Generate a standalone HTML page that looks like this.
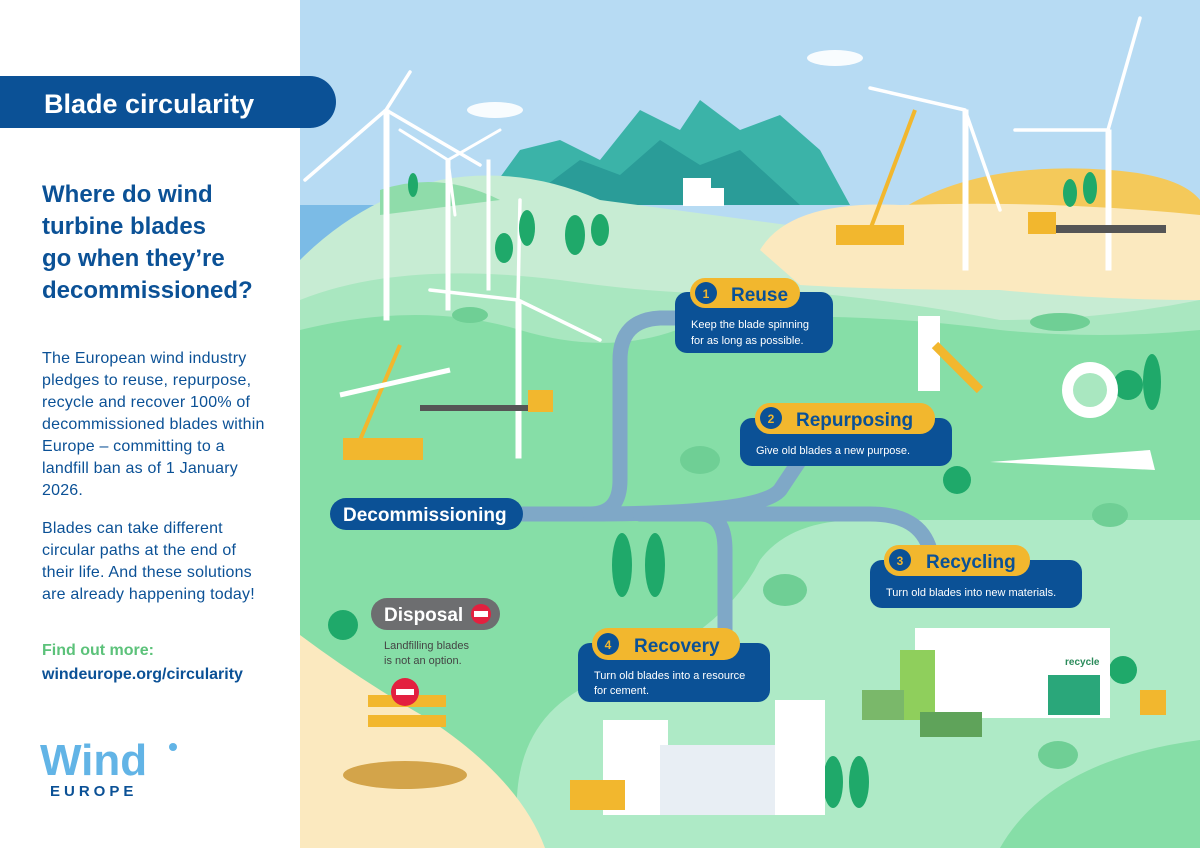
<!DOCTYPE html>
<html><head><meta charset="utf-8"><style>
body{margin:0;width:1200px;height:848px;overflow:hidden;background:#fff;font-family:"Liberation Sans",sans-serif}
svg{display:block}
.t{font-family:"Liberation Sans",sans-serif}
</style></head><body>
<svg width="1200" height="848" viewBox="0 0 1200 848" xmlns="http://www.w3.org/2000/svg">
<rect x="300" y="0" width="900" height="848" fill="#b7dbf3"/>
<g fill="#fff" opacity=".9">
<ellipse cx="495" cy="110" rx="28" ry="8"/><ellipse cx="835" cy="58" rx="28" ry="8"/>
</g>
<rect x="300" y="205" width="80" height="55" fill="#7bbbe6"/>
<path d="M480 205 L520 150 L560 140 L600 160 L640 110 L680 130 L700 100 L740 130 L780 115 L820 150 L850 205 Z" fill="#3bb3a8"/>
<path d="M520 205 L580 160 L620 175 L660 140 L700 165 L740 150 L800 205 Z" fill="#2a9c98"/>
<path d="M300 260 Q360 200 440 180 Q520 165 600 200 L900 240 L1200 230 L1200 848 L300 848 Z" fill="#c7ecd3"/>
<path d="M380 190 Q440 170 500 200 L380 215 Z" fill="#8fdcaa"/>
<path d="M900 210 Q980 160 1110 170 Q1180 175 1200 200 L1200 240 L900 240 Z" fill="#f4c95a"/>
<path d="M760 250 Q790 200 900 205 Q1050 200 1200 215 L1200 300 Q1100 300 1000 290 Q880 290 800 285 Z" fill="#fbe9bf"/>
<path d="M300 300 Q400 260 560 280 Q700 300 780 290 Q900 300 1000 320 Q1100 320 1200 300 L1200 848 L300 848 Z" fill="#a9e7c0"/>
<path d="M300 330 Q420 300 520 330 Q620 360 700 320 Q850 310 1000 330 Q1100 340 1200 330 L1200 848 L300 848 Z" fill="#86dea7"/>
<path d="M520 848 Q500 720 600 680 Q720 640 760 560 Q790 520 860 520 L1200 520 L1200 848 Z" fill="#aeeac6"/>
<path d="M1000 848 Q1050 760 1200 740 L1200 848 Z" fill="#86dea7"/>
<path d="M300 635 Q360 680 430 720 Q520 780 545 848 L300 848 Z" fill="#fbe9bf"/>
<g fill="none" stroke="#7fa8c7" stroke-width="15" stroke-linecap="round">
<path d="M520 514 L590 514 Q620 514 620 480 L620 360 Q620 320 660 318 L690 318"/>
<path d="M590 514 Q760 514 780 490 L800 460"/>
<path d="M640 514 L870 514 Q920 514 930 550"/>
<path d="M700 514 Q725 514 725 550 L725 640"/>
</g>
<g stroke="#fff" fill="#fff" stroke-linecap="round">
<rect x="384" y="110" width="5" height="210"/>
<path d="M386 110 L410 72 M386 110 L305 180 M386 110 L480 165" stroke-width="3.5"/>
<rect x="446" y="160" width="4" height="150"/>
<path d="M448 160 L500 130 M448 160 L400 130 M448 160 L455 215" stroke-width="3"/>
<rect x="487" y="160" width="3" height="130"/>
<rect x="516" y="300" width="5" height="158"/>
<path d="M518 300 L520 200 M518 300 L600 340 M518 300 L430 290" stroke-width="3.5"/>
<rect x="963" y="110" width="5" height="160"/>
<path d="M965 110 L870 88 M965 110 L1000 210" stroke-width="3.5"/>
<rect x="1106" y="130" width="5" height="140"/>
<path d="M1108 130 L1140 18 M1108 130 L1015 130" stroke-width="3.5"/>
</g>
<g fill="#1fa96a">
<ellipse cx="527" cy="228" rx="8" ry="18"/><ellipse cx="575" cy="235" rx="10" ry="20"/><ellipse cx="600" cy="230" rx="9" ry="16"/><ellipse cx="504" cy="248" rx="9" ry="15"/>
<ellipse cx="622" cy="565" rx="10" ry="32"/><ellipse cx="655" cy="565" rx="10" ry="32"/>
<circle cx="343" cy="625" r="15"/><circle cx="957" cy="480" r="14"/><circle cx="1128" cy="385" r="15"/><ellipse cx="1152" cy="382" rx="9" ry="28"/>
<circle cx="1123" cy="670" r="14"/><ellipse cx="833" cy="782" rx="10" ry="26"/><ellipse cx="859" cy="782" rx="10" ry="26"/>
<ellipse cx="1070" cy="193" rx="7" ry="14"/><ellipse cx="1090" cy="188" rx="7" ry="16"/><ellipse cx="413" cy="185" rx="5" ry="12"/>
</g>
<g fill="#6fcf95"><ellipse cx="700" cy="460" rx="20" ry="14"/><ellipse cx="785" cy="590" rx="22" ry="16"/><ellipse cx="1058" cy="755" rx="20" ry="14"/><ellipse cx="1110" cy="515" rx="18" ry="12"/><ellipse cx="470" cy="315" rx="18" ry="8"/><ellipse cx="1060" cy="322" rx="30" ry="9"/></g>
<rect x="683" y="178" width="28" height="28" fill="#fff"/><rect x="710" y="188" width="14" height="18" fill="#fff"/>
<rect x="836" y="225" width="68" height="20" fill="#f2b72e"/>
<path d="M870 230 L915 110" stroke="#f2b72e" stroke-width="4"/>
<rect x="1028" y="212" width="28" height="22" fill="#f2b72e"/><rect x="1056" y="225" width="110" height="8" fill="#555"/>
<path d="M360 440 L400 345" stroke="#f2b72e" stroke-width="4"/>
<rect x="343" y="438" width="80" height="22" fill="#f2b72e"/>
<path d="M340 395 L450 370" stroke="#fff" stroke-width="5"/>
<rect x="420" y="405" width="110" height="6" fill="#555"/><rect x="528" y="390" width="25" height="22" fill="#f2b72e"/>
<rect x="918" y="316" width="22" height="75" fill="#fff"/><path d="M935 345 L980 390" stroke="#f2b72e" stroke-width="9"/>
<circle cx="1090" cy="390" r="28" fill="#fff"/><circle cx="1090" cy="390" r="17" fill="#a9e7c0"/>
<path d="M990 462 L1150 450 L1155 470 Z" fill="#fff"/>
<rect x="915" y="628" width="100" height="90" fill="#fff"/><rect x="900" y="650" width="35" height="70" fill="#8fcf5c"/>
<rect x="1010" y="628" width="100" height="90" fill="#fff"/><rect x="1048" y="675" width="52" height="40" fill="#2aa77a"/>
<text x="1065" y="665" class="t" font-size="10" font-weight="bold" fill="#2a8a5a">recycle</text>
<rect x="862" y="690" width="42" height="30" fill="#7ab86a"/><rect x="920" y="712" width="62" height="25" fill="#5fa35a"/>
<rect x="1140" y="690" width="26" height="25" fill="#f2b72e"/>
<rect x="603" y="720" width="65" height="95" fill="#fff"/><rect x="660" y="745" width="140" height="70" fill="#e8eef4"/>
<rect x="775" y="700" width="50" height="115" fill="#fff"/>
<rect x="570" y="780" width="55" height="30" fill="#f2b72e"/>
<g><rect x="368" y="695" width="78" height="12" fill="#f2b72e"/><rect x="368" y="715" width="78" height="12" fill="#f2b72e"/>
<circle cx="405" cy="692" r="14" fill="#e3203f"/><rect x="396" y="689" width="18" height="6" fill="#fff"/>
<ellipse cx="405" cy="775" rx="62" ry="14" fill="#d3a44a"/></g>

<rect x="0" y="0" width="300" height="848" fill="#fff"/>
<path d="M0 76 H310 A26 26 0 0 1 310 128 H0 Z" fill="#0b5196"/>
<text x="44" y="113" class="t" font-size="27" font-weight="bold" fill="#fff">Blade circularity</text>
<g class="t" font-size="24" font-weight="bold" fill="#0b5196">
<text x="42" y="202">Where do wind</text><text x="42" y="234">turbine blades</text><text x="42" y="266">go when they’re</text><text x="42" y="298">decommissioned?</text>
</g>
<g class="t" font-size="16" fill="#0b5196" letter-spacing="0.2">
<text x="42" y="363">The European wind industry</text><text x="42" y="385">pledges to reuse, repurpose,</text><text x="42" y="407">recycle and recover 100% of</text><text x="42" y="429">decommissioned blades within</text><text x="42" y="451">Europe – committing to a</text><text x="42" y="473">landfill ban as of 1 January</text><text x="42" y="495">2026.</text>
<text x="42" y="533">Blades can take different</text><text x="42" y="555">circular paths at the end of</text><text x="42" y="577">their life. And these solutions</text><text x="42" y="599">are already happening today!</text>
</g>
<text x="42" y="655" class="t" font-size="16" font-weight="bold" fill="#5cc27a">Find out more:</text>
<text x="42" y="679" class="t" font-size="16" font-weight="bold" fill="#0b5196">windeurope.org/circularity</text>
<text x="40" y="775" class="t" font-size="44" font-weight="bold" fill="#62b4e6">Wind</text>
<circle cx="173" cy="747" r="4" fill="#62b4e6"/>
<text x="50" y="796" class="t" font-size="15" font-weight="bold" fill="#0b5196" letter-spacing="4">EUROPE</text>

<g class="t">
<rect x="675" y="292" width="158" height="61" rx="12" fill="#0b5196"/>
<rect x="690" y="278" width="110" height="30" rx="15" fill="#f2b72e"/>
<circle cx="706" cy="293" r="11" fill="#0b5196"/><text x="706" y="298" font-size="12" font-weight="bold" fill="#f2b72e" text-anchor="middle">1</text>
<text x="731" y="301" font-size="19" font-weight="bold" fill="#0b5196">Reuse</text>
<text x="691" y="328" font-size="11" fill="#fff">Keep the blade spinning</text><text x="691" y="344" font-size="11" fill="#fff">for as long as possible.</text>

<rect x="740" y="418" width="212" height="48" rx="12" fill="#0b5196"/>
<rect x="755" y="403" width="180" height="31" rx="15" fill="#f2b72e"/>
<circle cx="771" cy="418" r="11" fill="#0b5196"/><text x="771" y="423" font-size="12" font-weight="bold" fill="#f2b72e" text-anchor="middle">2</text>
<text x="796" y="426" font-size="19" font-weight="bold" fill="#0b5196">Repurposing</text>
<text x="756" y="454" font-size="11" fill="#fff">Give old blades a new purpose.</text>

<rect x="330" y="498" width="193" height="32" rx="16" fill="#0b5196"/>
<text x="343" y="521" font-size="19" font-weight="bold" fill="#fff">Decommissioning</text>

<rect x="870" y="560" width="212" height="48" rx="12" fill="#0b5196"/>
<rect x="884" y="545" width="146" height="31" rx="15" fill="#f2b72e"/>
<circle cx="900" cy="560" r="11" fill="#0b5196"/><text x="900" y="565" font-size="12" font-weight="bold" fill="#f2b72e" text-anchor="middle">3</text>
<text x="926" y="568" font-size="19" font-weight="bold" fill="#0b5196">Recycling</text>
<text x="886" y="596" font-size="11" fill="#fff">Turn old blades into new materials.</text>

<rect x="578" y="643" width="192" height="59" rx="12" fill="#0b5196"/>
<rect x="592" y="628" width="148" height="32" rx="16" fill="#f2b72e"/>
<circle cx="608" cy="644" r="11" fill="#0b5196"/><text x="608" y="649" font-size="12" font-weight="bold" fill="#f2b72e" text-anchor="middle">4</text>
<text x="634" y="652" font-size="19" font-weight="bold" fill="#0b5196">Recovery</text>
<text x="594" y="679" font-size="11" fill="#fff">Turn old blades into a resource</text><text x="594" y="694" font-size="11" fill="#fff">for cement.</text>

<rect x="371" y="598" width="129" height="32" rx="16" fill="#6d6e70"/>
<text x="384" y="621" font-size="19" font-weight="bold" fill="#fff">Disposal</text>
<circle cx="481" cy="614" r="10" fill="#e3203f"/><rect x="474" y="611" width="14" height="6" fill="#fff"/>
<text x="384" y="649" font-size="11" fill="#444">Landfilling blades</text><text x="384" y="664" font-size="11" fill="#444">is not an option.</text>
</g>
</svg>
</body></html>
